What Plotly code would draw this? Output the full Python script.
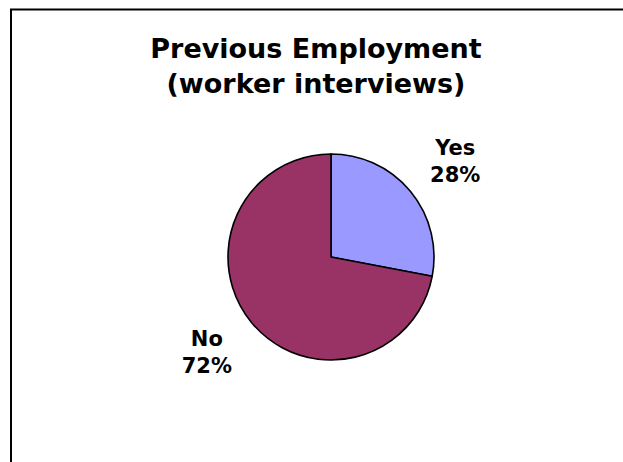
import plotly.graph_objects as go

# Survey answers and their shares (%)
labels = ["Yes", "No"]
values = [28, 72]
colors = ["#9999FF", "#993366"]

W, H = 623, 462
FONT = "DejaVu Sans"

# Outside labels: a blank spacer line lifts the upper label and lowers the
# lower one a little further away from the pie's horizontal midline.
label_templates = [
    "%{label}<br>%{percent}<br> ",
    " <br>%{label}<br>%{percent}",
]

fig = go.Figure(
    go.Pie(
        labels=labels,
        values=values,
        sort=False,
        direction="clockwise",
        rotation=0,
        marker=dict(colors=colors, line=dict(color="black", width=1.6)),
        textposition="outside",
        texttemplate=label_templates,
        textfont=dict(family=FONT, size=21, color="black", weight="bold"),
        hoverinfo="label+percent",
        showlegend=False,
        domain=dict(x=[228 / W, 434 / W], y=[1 - 360 / H, 1 - 154 / H]),
    )
)

# Chart frame (open on the right and bottom edges of the page)
fig.add_shape(
    type="rect",
    xref="paper", yref="paper",
    x0=11 / W, x1=1.05,
    y0=-0.05, y1=1 - 9.5 / H,
    line=dict(color="black", width=2),
    fillcolor="rgba(0,0,0,0)",
    layer="above",
)

fig.update_layout(
    width=W,
    height=H,
    margin=dict(l=0, r=0, t=0, b=0),
    paper_bgcolor="white",
    plot_bgcolor="white",
    title=dict(
        text="<b>Previous Employment<br>(worker interviews)</b>",
        x=316 / W,
        xanchor="center",
        y=1 - 58 / H,
        yanchor="top",
        font=dict(family=FONT, size=27, color="black"),
    ),
)

fig.write_html("out.html")
